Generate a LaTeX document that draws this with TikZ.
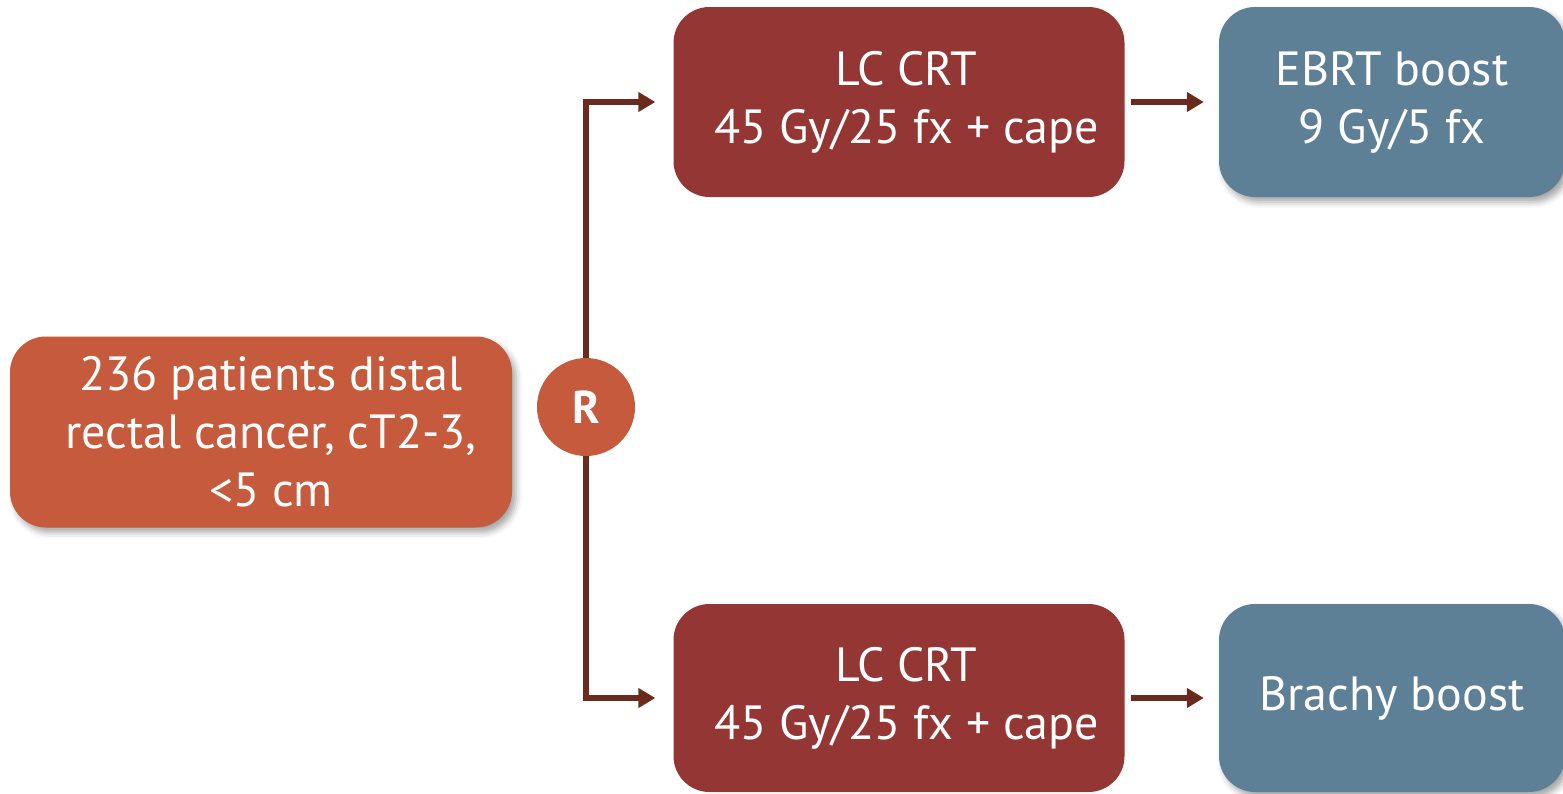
\documentclass[tikz,border=0pt]{standalone}
\usepackage{fontspec}
\setmainfont{PT Sans}
\usetikzlibrary{arrows.meta,shadows.blur}
\definecolor{pointsorange}{HTML}{C65A3C}
\definecolor{crtred}{HTML}{943634}
\definecolor{boostblue}{HTML}{5E8096}
\definecolor{flowbrown}{HTML}{6B2A1E}
\begin{document}
\begin{tikzpicture}[x=1pt,y=-1pt,
    box/.style={rounded corners=36pt, text=white, align=center,
      font=\fontsize{48}{58}\selectfont, inner sep=0pt},
    softshadow/.style={blur shadow={shadow opacity=35, shadow xshift=4pt,
      shadow yshift=-5pt, shadow blur radius=6pt}},
    flow/.style={flowbrown, line width=5.5pt, -{Triangle[length=17pt,width=19pt]}}]
  \useasboundingbox (0,0) rectangle (1563,793);
  \node[box, softshadow, fill=pointsorange, minimum width=502pt, minimum height=191pt] (pts) at (261,432) {\hspace*{20pt}236 patients distal\\\hspace*{20pt}rectal cancer, cT2-3,\\\hspace*{20pt}<5 cm};
  \node[box, fill=crtred, minimum width=451pt, minimum height=190pt] (crt1) at (899,102) {\hspace*{15pt}LC CRT\\\hspace*{15pt}45 Gy/25 fx + cape};
  \node[box, fill=crtred, minimum width=451pt, minimum height=188pt] (crt2) at (899,698) {\hspace*{15pt}LC CRT\\\hspace*{15pt}45 Gy/25 fx + cape};
  \node[box, softshadow, fill=boostblue, minimum width=346pt, minimum height=190pt] (boost1) at (1392,102) {EBRT boost\\9 Gy/5 fx};
  \node[box, softshadow, fill=boostblue, minimum width=346pt, minimum height=188pt] (boost2) at (1392,698) {Brachy boost};
  \node[circle, fill=pointsorange, minimum size=98pt, inner sep=0pt, text=white,
    font=\fontsize{46}{50}\selectfont\bfseries] (R) at (586,407) {R};
  \draw[flow, shorten >=18pt] (R.north) |- (crt1);
  \draw[flow, shorten >=18pt] (R.south) |- (crt2);
  \draw[flow, shorten <=6pt, shorten >=15pt] (crt1) -- (boost1);
  \draw[flow, shorten <=6pt, shorten >=15pt] (crt2) -- (boost2);
\end{tikzpicture}
\end{document}
